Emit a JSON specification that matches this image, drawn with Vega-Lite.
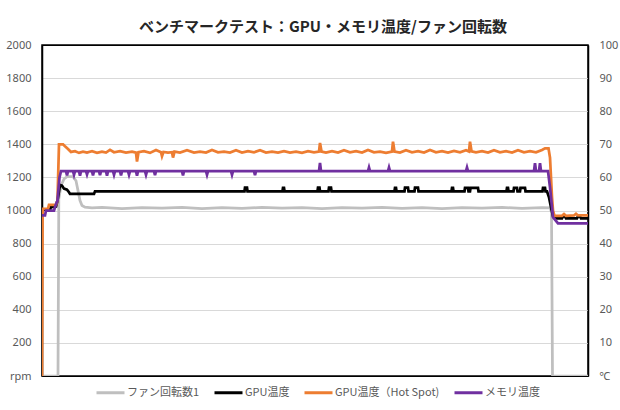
{
"$schema": "https://vega.github.io/schema/vega-lite/v6.json",
"width": 546, "height": 331,
"autosize": {"type": "none"},
"padding": {"left": 42, "top": 45, "right": 32, "bottom": 34},
"background": "white",
"title": {"text": "ベンチマークテスト：GPU・メモリ温度/ファン回転数", "font": "Noto Sans CJK JP", "fontSize": 15, "fontWeight": "bold", "color": "#262626", "anchor": "middle", "offset": 4, "dx": 8},
"config": {"view": {"stroke": "#000000", "strokeWidth": 1.5}},
"data": {"values": [
{"s":"ファン回転数1","t":0,"v":0},{"s":"ファン回転数1","t":16,"v":0},{"s":"ファン回転数1","t":16.8,"v":1070},{"s":"ファン回転数1","t":19,"v":1150},{"s":"ファン回転数1","t":22,"v":1190},{"s":"ファン回転数1","t":25,"v":1205},{"s":"ファン回転数1","t":31,"v":1205},{"s":"ファン回転数1","t":34,"v":1180},{"s":"ファン回転数1","t":36,"v":1120},{"s":"ファン回転数1","t":38,"v":1060},{"s":"ファン回転数1","t":40,"v":1030},{"s":"ファン回転数1","t":43,"v":1020},{"s":"ファン回転数1","t":50,"v":1016},{"s":"ファン回転数1","t":60,"v":1019},{"s":"ファン回転数1","t":80,"v":1012},{"s":"ファン回転数1","t":100,"v":1018},{"s":"ファン回転数1","t":120,"v":1014},{"s":"ファン回転数1","t":140,"v":1019},{"s":"ファン回転数1","t":160,"v":1012},{"s":"ファン回転数1","t":180,"v":1017},{"s":"ファン回転数1","t":200,"v":1013},{"s":"ファン回転数1","t":220,"v":1019},{"s":"ファン回転数1","t":240,"v":1014},{"s":"ファン回転数1","t":260,"v":1018},{"s":"ファン回転数1","t":280,"v":1012},{"s":"ファン回転数1","t":300,"v":1017},{"s":"ファン回転数1","t":320,"v":1014},{"s":"ファン回転数1","t":340,"v":1019},{"s":"ファン回転数1","t":360,"v":1013},{"s":"ファン回転数1","t":380,"v":1018},{"s":"ファン回転数1","t":400,"v":1012},{"s":"ファン回転数1","t":420,"v":1018},{"s":"ファン回転数1","t":440,"v":1014},{"s":"ファン回転数1","t":460,"v":1019},{"s":"ファン回転数1","t":480,"v":1013},{"s":"ファン回転数1","t":500,"v":1018},{"s":"ファン回転数1","t":508,"v":1016},{"s":"ファン回転数1","t":509.5,"v":990},{"s":"ファン回転数1","t":510.5,"v":0},{"s":"ファン回転数1","t":546,"v":0},

{"s":"GPU温度","t":0,"v":50.3},{"s":"GPU温度","t":8,"v":50.3},{"s":"GPU温度","t":9,"v":51},{"s":"GPU温度","t":14,"v":51.2},{"s":"GPU温度","t":15.5,"v":53},{"s":"GPU温度","t":18,"v":57.7},{"s":"GPU温度","t":20,"v":57.5},{"s":"GPU温度","t":22,"v":56.6},{"s":"GPU温度","t":25,"v":56.3},{"s":"GPU温度","t":27,"v":55.5},{"s":"GPU温度","t":28,"v":55},{"s":"GPU温度","t":52,"v":55},{"s":"GPU温度","t":53,"v":55.8},
{"s":"GPU温度","t":202.5,"v":55.8},{"s":"GPU温度","t":203,"v":56.9},{"s":"GPU温度","t":205,"v":56.9},{"s":"GPU温度","t":205.5,"v":55.8},
{"s":"GPU温度","t":240.5,"v":55.8},{"s":"GPU温度","t":241,"v":56.8},{"s":"GPU温度","t":242,"v":56.8},{"s":"GPU温度","t":242.5,"v":55.8},
{"s":"GPU温度","t":275.5,"v":55.8},{"s":"GPU温度","t":276,"v":56.9},{"s":"GPU温度","t":277.5,"v":56.9},{"s":"GPU温度","t":278,"v":55.8},
{"s":"GPU温度","t":286.5,"v":55.8},{"s":"GPU温度","t":287,"v":56.9},{"s":"GPU温度","t":289,"v":56.9},{"s":"GPU温度","t":289.5,"v":55.8},
{"s":"GPU温度","t":352.5,"v":55.8},{"s":"GPU温度","t":353,"v":56.8},{"s":"GPU温度","t":354,"v":56.8},{"s":"GPU温度","t":354.5,"v":55.8},
{"s":"GPU温度","t":362.5,"v":55.8},{"s":"GPU温度","t":363,"v":56.9},{"s":"GPU温度","t":366,"v":56.9},{"s":"GPU温度","t":366.5,"v":55.8},
{"s":"GPU温度","t":372.5,"v":55.8},{"s":"GPU温度","t":373,"v":56.9},{"s":"GPU温度","t":376,"v":56.9},{"s":"GPU温度","t":376.5,"v":55.8},
{"s":"GPU温度","t":409.5,"v":55.8},{"s":"GPU温度","t":410,"v":56.8},{"s":"GPU温度","t":411,"v":56.8},{"s":"GPU温度","t":411.5,"v":55.8},
{"s":"GPU温度","t":422.5,"v":55.8},{"s":"GPU温度","t":423,"v":56.8},{"s":"GPU温度","t":426,"v":56.8},{"s":"GPU温度","t":426.5,"v":55.8},{"s":"GPU温度","t":428,"v":55.8},{"s":"GPU温度","t":428.5,"v":56.8},{"s":"GPU温度","t":436,"v":56.8},{"s":"GPU温度","t":436.5,"v":55.8},
{"s":"GPU温度","t":464.5,"v":55.8},{"s":"GPU温度","t":465,"v":56.8},{"s":"GPU温度","t":466,"v":56.8},{"s":"GPU温度","t":466.5,"v":55.8},
{"s":"GPU温度","t":471.5,"v":55.8},{"s":"GPU温度","t":472,"v":56.8},{"s":"GPU温度","t":475,"v":56.8},{"s":"GPU温度","t":475.5,"v":55.8},{"s":"GPU温度","t":478,"v":55.8},{"s":"GPU温度","t":478.5,"v":56.8},{"s":"GPU温度","t":483,"v":56.8},{"s":"GPU温度","t":483.5,"v":55.8},
{"s":"GPU温度","t":500.5,"v":55.8},{"s":"GPU温度","t":501,"v":56.8},{"s":"GPU温度","t":503,"v":56.8},{"s":"GPU温度","t":503.5,"v":55.8},
{"s":"GPU温度","t":505,"v":55.8},{"s":"GPU温度","t":507,"v":54},{"s":"GPU温度","t":509,"v":51},{"s":"GPU温度","t":511,"v":48.3},{"s":"GPU温度","t":513,"v":47.6},{"s":"GPU温度","t":520,"v":47.6},{"s":"GPU温度","t":521,"v":48.2},{"s":"GPU温度","t":523,"v":48.2},{"s":"GPU温度","t":524,"v":47.6},{"s":"GPU温度","t":535,"v":47.6},{"s":"GPU温度","t":536,"v":48.2},{"s":"GPU温度","t":538,"v":48.2},{"s":"GPU温度","t":539,"v":47.6},{"s":"GPU温度","t":546,"v":47.6},

{"s":"GPU温度（Hot Spot)","t":0,"v":0},{"s":"GPU温度（Hot Spot)","t":0.6,"v":50.5},{"s":"GPU温度（Hot Spot)","t":6,"v":50.5},{"s":"GPU温度（Hot Spot)","t":7,"v":51.7},{"s":"GPU温度（Hot Spot)","t":14,"v":51.7},{"s":"GPU温度（Hot Spot)","t":15.5,"v":53},{"s":"GPU温度（Hot Spot)","t":17,"v":70},{"s":"GPU温度（Hot Spot)","t":21,"v":70},{"s":"GPU温度（Hot Spot)","t":23,"v":69.4},{"s":"GPU温度（Hot Spot)","t":26,"v":68.6},{"s":"GPU温度（Hot Spot)","t":29,"v":67.7},{"s":"GPU温度（Hot Spot)","t":33,"v":67.9},{"s":"GPU温度（Hot Spot)","t":37,"v":67.4},{"s":"GPU温度（Hot Spot)","t":41,"v":67.8},{"s":"GPU温度（Hot Spot)","t":45,"v":67.5},{"s":"GPU温度（Hot Spot)","t":50,"v":67.9},{"s":"GPU温度（Hot Spot)","t":55,"v":67.4},{"s":"GPU温度（Hot Spot)","t":60,"v":67.8},{"s":"GPU温度（Hot Spot)","t":64,"v":67.5},{"s":"GPU温度（Hot Spot)","t":68,"v":68.3},{"s":"GPU温度（Hot Spot)","t":72,"v":67.6},{"s":"GPU温度（Hot Spot)","t":78,"v":67.9},{"s":"GPU温度（Hot Spot)","t":84,"v":67.5},{"s":"GPU温度（Hot Spot)","t":90,"v":67.8},{"s":"GPU温度（Hot Spot)","t":94,"v":67.5},{"s":"GPU温度（Hot Spot)","t":95,"v":64.8},{"s":"GPU温度（Hot Spot)","t":96.5,"v":67.6},{"s":"GPU温度（Hot Spot)","t":102,"v":67.9},{"s":"GPU温度（Hot Spot)","t":108,"v":67.4},{"s":"GPU温度（Hot Spot)","t":114,"v":68.3},{"s":"GPU温度（Hot Spot)","t":119,"v":67.6},{"s":"GPU温度（Hot Spot)","t":120,"v":66.4},{"s":"GPU温度（Hot Spot)","t":121.5,"v":67.7},{"s":"GPU温度（Hot Spot)","t":126,"v":67.5},{"s":"GPU温度（Hot Spot)","t":130,"v":67.6},{"s":"GPU温度（Hot Spot)","t":131,"v":66},{"s":"GPU温度（Hot Spot)","t":132.5,"v":67.8},{"s":"GPU温度（Hot Spot)","t":138,"v":67.5},{"s":"GPU温度（Hot Spot)","t":145,"v":68.2},{"s":"GPU温度（Hot Spot)","t":152,"v":67.5},{"s":"GPU温度（Hot Spot)","t":158,"v":67.8},{"s":"GPU温度（Hot Spot)","t":164,"v":67.5},{"s":"GPU温度（Hot Spot)","t":170,"v":68.3},{"s":"GPU温度（Hot Spot)","t":176,"v":67.6},{"s":"GPU温度（Hot Spot)","t":182,"v":67.8},{"s":"GPU温度（Hot Spot)","t":188,"v":67.5},{"s":"GPU温度（Hot Spot)","t":194,"v":68.2},{"s":"GPU温度（Hot Spot)","t":200,"v":67.5},{"s":"GPU温度（Hot Spot)","t":206,"v":67.9},{"s":"GPU温度（Hot Spot)","t":212,"v":67.6},{"s":"GPU温度（Hot Spot)","t":218,"v":68.2},{"s":"GPU温度（Hot Spot)","t":224,"v":67.5},{"s":"GPU温度（Hot Spot)","t":230,"v":67.8},{"s":"GPU温度（Hot Spot)","t":236,"v":67.5},{"s":"GPU温度（Hot Spot)","t":242,"v":67.9},{"s":"GPU温度（Hot Spot)","t":248,"v":67.5},{"s":"GPU温度（Hot Spot)","t":254,"v":67.8},{"s":"GPU温度（Hot Spot)","t":260,"v":67.4},{"s":"GPU温度（Hot Spot)","t":266,"v":67.9},{"s":"GPU温度（Hot Spot)","t":272,"v":67.6},{"s":"GPU温度（Hot Spot)","t":277,"v":67.8},{"s":"GPU温度（Hot Spot)","t":278,"v":70.4},{"s":"GPU温度（Hot Spot)","t":279.5,"v":67.8},{"s":"GPU温度（Hot Spot)","t":284,"v":67.5},{"s":"GPU温度（Hot Spot)","t":290,"v":67.9},{"s":"GPU温度（Hot Spot)","t":296,"v":67.5},{"s":"GPU温度（Hot Spot)","t":302,"v":68.2},{"s":"GPU温度（Hot Spot)","t":308,"v":67.6},{"s":"GPU温度（Hot Spot)","t":314,"v":67.9},{"s":"GPU温度（Hot Spot)","t":320,"v":67.5},{"s":"GPU温度（Hot Spot)","t":326,"v":68.3},{"s":"GPU温度（Hot Spot)","t":332,"v":67.6},{"s":"GPU温度（Hot Spot)","t":338,"v":67.8},{"s":"GPU温度（Hot Spot)","t":344,"v":67.4},{"s":"GPU温度（Hot Spot)","t":350,"v":67.8},{"s":"GPU温度（Hot Spot)","t":351,"v":70.8},{"s":"GPU温度（Hot Spot)","t":352.5,"v":67.8},{"s":"GPU温度（Hot Spot)","t":358,"v":67.5},{"s":"GPU温度（Hot Spot)","t":364,"v":68.2},{"s":"GPU温度（Hot Spot)","t":370,"v":67.6},{"s":"GPU温度（Hot Spot)","t":376,"v":67.9},{"s":"GPU温度（Hot Spot)","t":382,"v":67.5},{"s":"GPU温度（Hot Spot)","t":388,"v":68.3},{"s":"GPU温度（Hot Spot)","t":394,"v":67.6},{"s":"GPU温度（Hot Spot)","t":400,"v":67.9},{"s":"GPU温度（Hot Spot)","t":406,"v":67.5},{"s":"GPU温度（Hot Spot)","t":412,"v":68},{"s":"GPU温度（Hot Spot)","t":418,"v":67.6},{"s":"GPU温度（Hot Spot)","t":424,"v":68.2},{"s":"GPU温度（Hot Spot)","t":427,"v":67.8},{"s":"GPU温度（Hot Spot)","t":428,"v":70.8},{"s":"GPU温度（Hot Spot)","t":429.5,"v":67.9},{"s":"GPU温度（Hot Spot)","t":434,"v":67.6},{"s":"GPU温度（Hot Spot)","t":440,"v":67.9},{"s":"GPU温度（Hot Spot)","t":446,"v":67.5},{"s":"GPU温度（Hot Spot)","t":452,"v":68.2},{"s":"GPU温度（Hot Spot)","t":458,"v":67.6},{"s":"GPU温度（Hot Spot)","t":464,"v":67.9},{"s":"GPU温度（Hot Spot)","t":470,"v":67.5},{"s":"GPU温度（Hot Spot)","t":476,"v":68.2},{"s":"GPU温度（Hot Spot)","t":482,"v":67.6},{"s":"GPU温度（Hot Spot)","t":488,"v":67.9},{"s":"GPU温度（Hot Spot)","t":494,"v":67.6},{"s":"GPU温度（Hot Spot)","t":500,"v":68.3},{"s":"GPU温度（Hot Spot)","t":503,"v":68.8},{"s":"GPU温度（Hot Spot)","t":506.5,"v":68.8},{"s":"GPU温度（Hot Spot)","t":508,"v":66},{"s":"GPU温度（Hot Spot)","t":510,"v":54},{"s":"GPU温度（Hot Spot)","t":511,"v":50},{"s":"GPU温度（Hot Spot)","t":512.5,"v":48.4},{"s":"GPU温度（Hot Spot)","t":520,"v":48.4},{"s":"GPU温度（Hot Spot)","t":522,"v":48.9},{"s":"GPU温度（Hot Spot)","t":524,"v":48.4},{"s":"GPU温度（Hot Spot)","t":532,"v":48.5},{"s":"GPU温度（Hot Spot)","t":534,"v":49},{"s":"GPU温度（Hot Spot)","t":536,"v":48.5},{"s":"GPU温度（Hot Spot)","t":546,"v":48.5},

{"s":"メモリ温度","t":0,"v":48.5},{"s":"メモリ温度","t":3,"v":48.5},{"s":"メモリ温度","t":4,"v":50},{"s":"メモリ温度","t":12,"v":50},{"s":"メモリ温度","t":13.5,"v":51.5},{"s":"メモリ温度","t":15.5,"v":53},{"s":"メモリ温度","t":17.5,"v":60},{"s":"メモリ温度","t":19,"v":61.9},
{"s":"メモリ温度","t":24,"v":61.9},{"s":"メモリ温度","t":25,"v":60.6},{"s":"メモリ温度","t":26,"v":61.9},{"s":"メモリ温度","t":31,"v":61.9},{"s":"メモリ温度","t":32,"v":60.8},{"s":"メモリ温度","t":33,"v":61.9},{"s":"メモリ温度","t":37,"v":61.9},{"s":"メモリ温度","t":38,"v":60.5},{"s":"メモリ温度","t":39,"v":61.9},{"s":"メモリ温度","t":44,"v":61.9},{"s":"メモリ温度","t":45,"v":60.9},{"s":"メモリ温度","t":46,"v":61.9},{"s":"メモリ温度","t":50,"v":61.9},{"s":"メモリ温度","t":51,"v":60.6},{"s":"メモリ温度","t":52,"v":61.9},{"s":"メモリ温度","t":57,"v":61.9},{"s":"メモリ温度","t":58,"v":60.7},{"s":"メモリ温度","t":59,"v":61.9},{"s":"メモリ温度","t":64,"v":61.9},{"s":"メモリ温度","t":65,"v":60.5},{"s":"メモリ温度","t":66,"v":61.9},{"s":"メモリ温度","t":71,"v":61.9},{"s":"メモリ温度","t":72,"v":60.8},{"s":"メモリ温度","t":73,"v":61.9},{"s":"メモリ温度","t":78,"v":61.9},{"s":"メモリ温度","t":79,"v":60.6},{"s":"メモリ温度","t":80,"v":61.9},{"s":"メモリ温度","t":86,"v":61.9},{"s":"メモリ温度","t":87,"v":60.8},{"s":"メモリ温度","t":88,"v":61.9},{"s":"メモリ温度","t":94,"v":61.9},{"s":"メモリ温度","t":95,"v":60.5},{"s":"メモリ温度","t":96,"v":61.9},{"s":"メモリ温度","t":103,"v":61.9},{"s":"メモリ温度","t":104,"v":60.8},{"s":"メモリ温度","t":105,"v":61.9},{"s":"メモリ温度","t":112,"v":61.9},{"s":"メモリ温度","t":113,"v":60.7},{"s":"メモリ温度","t":114,"v":61.9},
{"s":"メモリ温度","t":140,"v":61.9},{"s":"メモリ温度","t":141,"v":60.6},{"s":"メモリ温度","t":142,"v":61.9},{"s":"メモリ温度","t":164,"v":61.9},{"s":"メモリ温度","t":165,"v":60.8},{"s":"メモリ温度","t":166,"v":61.9},{"s":"メモリ温度","t":189,"v":61.9},{"s":"メモリ温度","t":190,"v":60.8},{"s":"メモリ温度","t":191,"v":61.9},{"s":"メモリ温度","t":212,"v":61.9},{"s":"メモリ温度","t":213,"v":60.7},{"s":"メモリ温度","t":214,"v":61.9},{"s":"メモリ温度","t":277,"v":61.9},{"s":"メモリ温度","t":278,"v":64.4},{"s":"メモリ温度","t":279,"v":61.9},{"s":"メモリ温度","t":326,"v":61.9},{"s":"メモリ温度","t":327,"v":63},{"s":"メモリ温度","t":328,"v":61.9},{"s":"メモリ温度","t":346,"v":61.9},{"s":"メモリ温度","t":347,"v":63},{"s":"メモリ温度","t":348,"v":61.9},{"s":"メモリ温度","t":424,"v":61.9},{"s":"メモリ温度","t":425,"v":63},{"s":"メモリ温度","t":426,"v":61.9},{"s":"メモリ温度","t":492,"v":61.9},{"s":"メモリ温度","t":493,"v":64.3},{"s":"メモリ温度","t":494,"v":61.9},{"s":"メモリ温度","t":497,"v":61.9},{"s":"メモリ温度","t":498,"v":64.3},{"s":"メモリ温度","t":499,"v":61.9},{"s":"メモリ温度","t":506,"v":61.9},{"s":"メモリ温度","t":508,"v":57},{"s":"メモリ温度","t":511,"v":48},{"s":"メモリ温度","t":516,"v":46.1},{"s":"メモリ温度","t":546,"v":46.1}
]},
"layer": [
{"transform": [{"filter": "datum.s === 'ファン回転数1'"}],
 "mark": {"type": "line", "strokeWidth": 2.75, "clip": true},
 "encoding": {
  "x": {"field": "t", "type": "quantitative", "scale": {"domain": [0, 546], "nice": false, "zero": false}, "axis": null},
  "y": {"field": "v", "type": "quantitative", "scale": {"domain": [0, 2000], "nice": false}, "axis": {"orient": "left", "values": [0,200,400,600,800,1000,1200,1400,1600,1800,2000], "format": "d", "labelExpr": "datum.value === 0 ? 'rpm' : datum.label", "labelOverlap": false, "grid": true, "gridColor": {"condition": {"test": "datum.value === 0 || datum.value === 2000", "value": "#000000"}, "value": "#d9d9d9"}, "gridWidth": 1, "domain": true, "domainColor": "#000000", "domainWidth": 1.5, "ticks": false, "tickSize": 0, "labelPadding": 11, "title": null, "labelFont": "Noto Sans", "labelFontSize": 11, "labelColor": "#595959"}},
  "color": {"field": "s", "type": "nominal", "scale": {"domain": ["ファン回転数1", "GPU温度", "GPU温度（Hot Spot)", "メモリ温度"], "range": ["#bfbfbf", "#000000", "#ed7d31", "#7030a0"]}, "legend": {"orient": "none", "legendX": 53, "legendY": 332, "direction": "horizontal", "title": null, "symbolType": "stroke", "symbolSize": 784, "symbolStrokeWidth": 3, "labelFont": "Noto Sans CJK JP", "labelFontSize": 11, "labelColor": "#595959", "columnPadding": 8, "labelOffset": 1}}
 }
},
{"transform": [{"filter": "datum.s === 'GPU温度'"}],
 "mark": {"type": "line", "strokeWidth": 2.75, "clip": true},
 "encoding": {
  "x": {"field": "t", "type": "quantitative", "scale": {"domain": [0, 546], "nice": false, "zero": false}, "axis": null},
  "y": {"field": "v", "type": "quantitative", "scale": {"domain": [0, 100], "nice": false}, "axis": {"orient": "right", "values": [0,10,20,30,40,50,60,70,80,90,100], "format": "d", "labelExpr": "datum.value === 0 ? '℃' : datum.label", "labelOverlap": false, "grid": false, "domain": true, "domainColor": "#000000", "domainWidth": 1.5, "ticks": false, "tickSize": 0, "labelPadding": 11, "title": null, "labelFont": "Noto Sans", "labelFontSize": 11, "labelColor": "#595959"}},
  "color": {"field": "s", "type": "nominal"}
 }
},
{"transform": [{"filter": "datum.s === 'GPU温度（Hot Spot)'"}],
 "mark": {"type": "line", "strokeWidth": 2.75, "clip": true},
 "encoding": {
  "x": {"field": "t", "type": "quantitative"},
  "y": {"field": "v", "type": "quantitative", "scale": {"domain": [0, 100], "nice": false}, "axis": null},
  "color": {"field": "s", "type": "nominal"}
 }
},
{"transform": [{"filter": "datum.s === 'メモリ温度'"}],
 "mark": {"type": "line", "strokeWidth": 2.75, "clip": true},
 "encoding": {
  "x": {"field": "t", "type": "quantitative"},
  "y": {"field": "v", "type": "quantitative", "scale": {"domain": [0, 100], "nice": false}, "axis": null},
  "color": {"field": "s", "type": "nominal"}
 }
}
],
"resolve": {"scale": {"y": "independent"}}
}
